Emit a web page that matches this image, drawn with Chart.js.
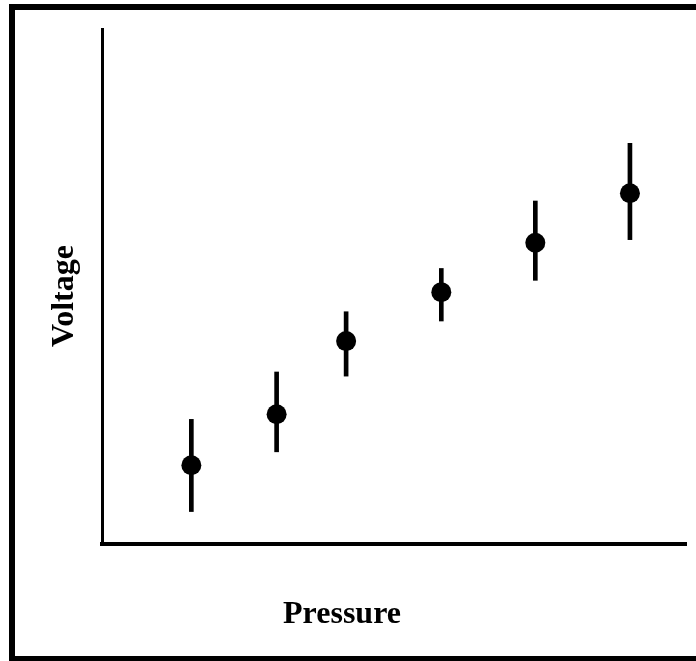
<!DOCTYPE html>
<html>
<head>
<meta charset="utf-8">
<script src="https://cdn.jsdelivr.net/npm/chart.js@4"></script>
<style>
  html, body { margin: 0; padding: 0; background: #fff; }
  #wrap { position: relative; width: 696px; height: 661px; overflow: hidden; }
  #plot { position: absolute; left: 0; top: 0; }
  /* open frame: top, left and bottom edges */
  #frame {
    position: absolute; left: 9px; top: 4px; width: 700px; height: 657px;
    box-sizing: border-box; pointer-events: none;
    border-top: 6px solid #000; border-left: 6px solid #000; border-bottom: 5px solid #000;
  }
</style>
</head>
<body>
<div id="wrap">
  <canvas id="plot" width="696" height="661"></canvas>
  <div id="frame"></div>
</div>
<script>
// Measurements (arbitrary units)
const pressure    = [1.53, 2.99, 4.18, 5.81, 7.42, 9.04];
const voltage     = [1.53, 2.52, 3.94, 4.89, 5.85, 6.81];
const voltageLow  = [0.63, 1.79, 3.26, 4.33, 5.12, 5.91];
const voltageHigh = [2.42, 3.34, 4.51, 5.35, 6.66, 7.78];

const xTitle = 'Pressure';
const yTitle = 'Voltage';

const points = pressure.map((p, i) => ({ x: p, y: voltage[i] }));
const errorBars = pressure.map((p, i) => ({ x: p, y: [voltageLow[i], voltageHigh[i]] }));

// Axis captions drawn in bold serif, outside the plot area
const axisCaptions = {
  id: 'axisCaptions',
  afterDraw(chart, args, opts) {
    const ctx = chart.ctx;
    ctx.save();
    ctx.fillStyle = '#000';
    ctx.font = opts.font;
    ctx.textAlign = 'center';
    ctx.textBaseline = 'alphabetic';
    ctx.fillText(opts.x.text, opts.x.cx, opts.x.baseline);
    ctx.translate(opts.y.baseline, opts.y.cy);
    ctx.rotate(-Math.PI / 2);
    ctx.fillText(opts.y.text, 0, 0);
    ctx.restore();
  }
};

const hiddenTicks = { display: false };
const noGrid = { display: false, drawTicks: false };

new Chart(document.getElementById('plot'), {
  type: 'scatter',
  data: {
    datasets: [
      {
        type: 'scatter',
        data: points,
        pointRadius: 10,
        pointHoverRadius: 10,
        pointBackgroundColor: '#000',
        pointBorderWidth: 0,
        showLine: false
      },
      {
        type: 'bar',
        data: errorBars,
        backgroundColor: '#000',
        borderWidth: 0,
        barThickness: 4
      }
    ]
  },
  options: {
    responsive: false,
    devicePixelRatio: 1,
    animation: false,
    events: [],
    layout: { padding: { left: 102, top: 29, right: 9, bottom: 117 } },
    scales: {
      x: {
        type: 'linear', min: 0, max: 10, offset: false,
        grid: noGrid, ticks: hiddenTicks,
        border: { display: true, color: '#000', width: 4 }
      },
      y: {
        type: 'linear', min: 0, max: 10,
        grid: noGrid, ticks: hiddenTicks,
        border: { display: true, color: '#000', width: 3 }
      }
    },
    plugins: {
      legend: { display: false },
      tooltip: { enabled: false },
      axisCaptions: {
        font: 'bold 32px "Liberation Serif", "Times New Roman", serif',
        x: { text: xTitle, cx: 342, baseline: 623 },
        y: { text: yTitle, cy: 296, baseline: 73 }
      }
    }
  },
  plugins: [axisCaptions]
});
</script>
</body>
</html>
